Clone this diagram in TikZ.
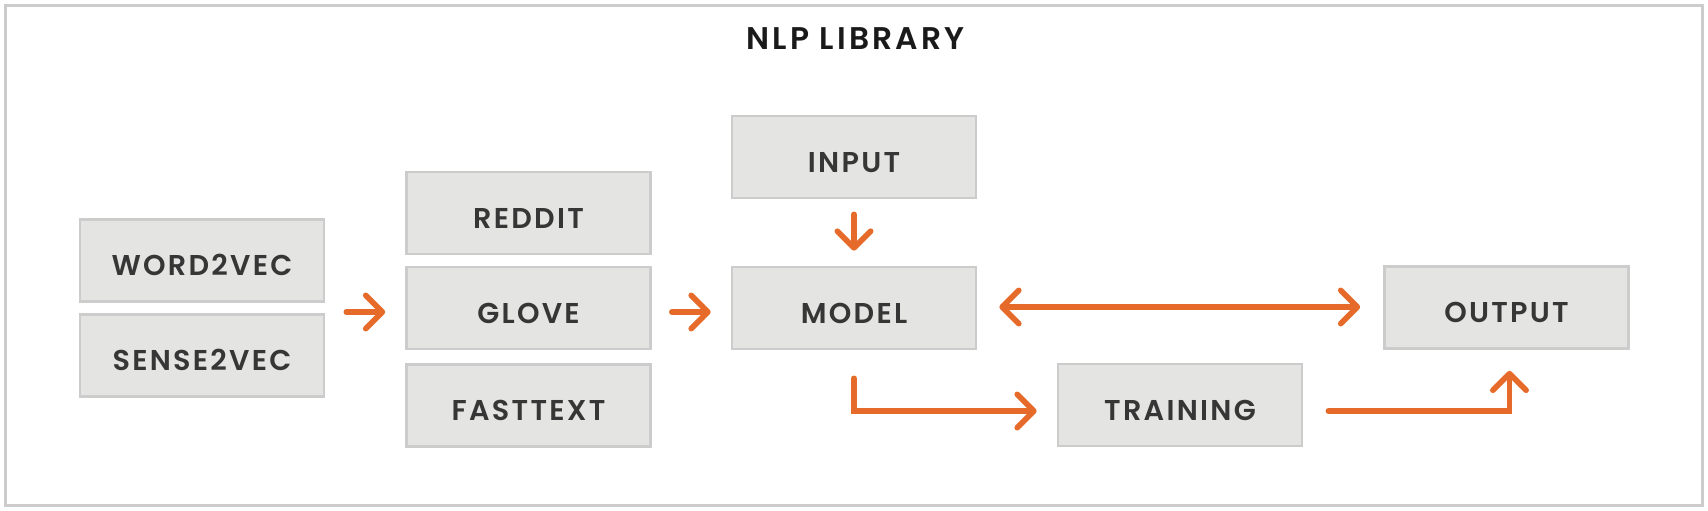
\documentclass[tikz,border=0pt]{standalone}
\usepackage{fontspec}
\setmainfont{Poppins}
\newfontfamily\boxfont{Poppins}[UprightFont={* SemiBold},LetterSpace=8]
\newfontfamily\titlefont{Poppins}[UprightFont={* SemiBold},LetterSpace=10]
\usetikzlibrary{arrows.meta,calc}
\definecolor{frameg}{HTML}{CCCCCC}
\definecolor{boxfill}{HTML}{E4E4E3}
\definecolor{boxtext}{HTML}{363636}
\definecolor{titletext}{HTML}{1A1A1A}
\definecolor{orng}{HTML}{E66B2B}
\tikzset{
  stepbox/.style={draw=frameg, fill=boxfill, line width=2pt, minimum width=183pt,
    minimum height=61.5pt, inner sep=0pt, text=boxtext,
    font={\boxfont\fontsize{21.5pt}{24pt}\selectfont}, text height=22.5pt, text depth=0pt},
  titlestyle/.style={anchor=base, text=titletext, inner sep=0pt,
    font={\titlefont\fontsize{23.5pt}{26pt}\selectfont}},
  tip/.style={Straight Barb[length=12.5pt,width=25pt,round]},
  arr/.style={draw=orng, line width=4.2pt, line cap=round, -{Straight Barb[length=12.5pt,width=25pt,round]}},
  darr/.style={draw=orng, line width=4.2pt, line cap=round,
    {Straight Barb[length=12.5pt,width=25pt,round]}-{Straight Barb[length=12.5pt,width=25pt,round]}},
}
\begin{document}
\begin{tikzpicture}[x=0.75pt,y=-0.75pt]
\useasboundingbox (0,0) rectangle (1708,510);
\draw[frameg, line width=2.25pt] (5.5,5.5) rectangle (1702.5,505);
\node[titlestyle] (title) at (855.5,50) {NLP LIBRARY};
\node[stepbox] (w2v) at (202,260.5) {WORD2VEC};
\node[stepbox] (s2v) at (202,355.5) {SENSE2VEC};
\node[stepbox] (reddit) at (528.5,213) {REDDIT};
\node[stepbox] (glove) at (528.5,308) {GLOVE};
\node[stepbox] (fasttext) at (528.5,405.5) {FASTTEXT};
\node[stepbox] (input) at (854,157) {INPUT};
\node[stepbox] (model) at (854,308) {MODEL};
\node[stepbox] (output) at (1506.5,307.5) {OUTPUT};
\node[stepbox] (training) at (1180,405) {TRAINING};
\draw[arr] ($(w2v.east)!0.5!(s2v.east)+(21,4)$) -- ($(glove.west)+(-20,4)$);
\draw[arr] ($(glove.east)+(20,4)$) -- ($(model.west)+(-20,4)$);
\draw[arr] ($(input.south)+(0,15)$) -- ($(model.north)+(0,-15)$);
\draw[darr] ($(model.east)+(22,-1)$) -- ($(output.west)+(-23,-0.5)$);
\draw[arr] ($(model.south)+(0,28)$) |- ($(training.west)+(-20,6)$);
\draw[arr] ($(training.east)+(25,6)$) -| ($(output.south)+(3,21)$);
\end{tikzpicture}
\end{document}
